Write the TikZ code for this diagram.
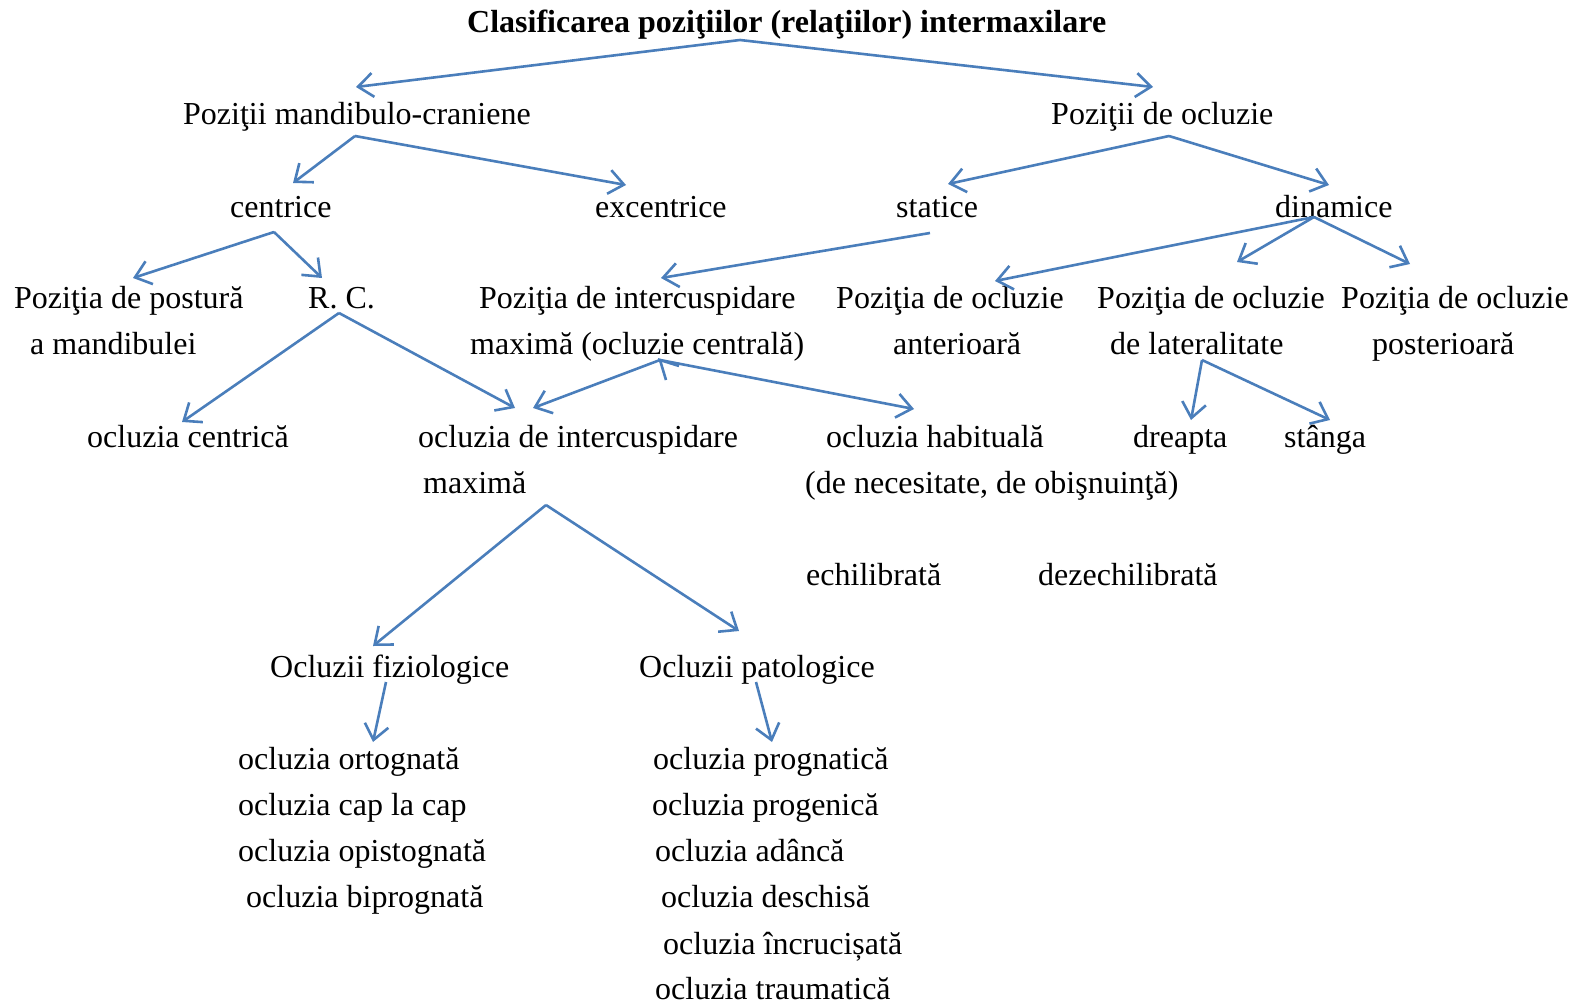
\documentclass[tikz,border=0pt]{standalone}
\usepackage{fontspec}
\setmainfont{Liberation Serif}
\usetikzlibrary{arrows.meta}
\definecolor{linkblue}{RGB}{74,126,187}
\begin{document}
\begin{tikzpicture}[x=1pt,y=-1pt,
  txt/.style={anchor=base west, inner sep=0pt, font=\fontsize{32}{38}\selectfont},
  ttl/.style={txt, font=\fontsize{32}{38}\selectfont\bfseries},
  link/.style={draw=linkblue, line width=2.6pt, -{Straight Barb[length=15pt,width=24pt,line width=2.6pt]}},
  plain/.style={draw=linkblue, line width=2.6pt}]
\useasboundingbox (0,0) rectangle (1582,1004);
% texts
\node[ttl] (title) at (467,32) {Clasificarea poziţiilor (relaţiilor) intermaxilare};
\node[txt] (pmc) at (183,124) {Poziţii mandibulo-craniene};
\node[txt] (pdo) at (1051,124) {Poziţii de ocluzie};
\node[txt] (cen) at (230,217) {centrice};
\node[txt] (exc) at (595,217) {excentrice};
\node[txt] (sta) at (896,217) {statice};
\node[txt] (din) at (1275,217) {dinamice};
\node[txt] (pp1) at (14,308) {Poziţia de postură};
\node[txt] (pp2) at (30,354) {a mandibulei};
\node[txt] (rc) at (308,308) {R. C.};
\node[txt] (pi1) at (479,308) {Poziţia de intercuspidare};
\node[txt] (pi2) at (470,354) {maximă (ocluzie centrală)};
\node[txt] (pa1) at (836,308) {Poziţia de ocluzie};
\node[txt] (pa2) at (893,354) {anterioară};
\node[txt] (pl1) at (1097,308) {Poziţia de ocluzie};
\node[txt] (pl2) at (1110,354) {de lateralitate};
\node[txt] (ppo1) at (1341,308) {Poziţia de ocluzie};
\node[txt] (ppo2) at (1372,354) {posterioară};
\node[txt] (oc) at (87,447) {ocluzia centrică};
\node[txt] (oi1) at (418,447) {ocluzia de intercuspidare};
\node[txt] (oi2) at (423,493) {maximă};
\node[txt] (oh1) at (826,447) {ocluzia habituală};
\node[txt] (oh2) at (805,493) {(de necesitate, de obişnuinţă)};
\node[txt] (dr) at (1133,447) {dreapta};
\node[txt] (st) at (1284,447) {stânga};
\node[txt] (ech) at (806,585) {echilibrată};
\node[txt] (dez) at (1038,585) {dezechilibrată};
\node[txt] (ofz) at (270,677) {Ocluzii fiziologice};
\node[txt] (opt) at (639,677) {Ocluzii patologice};
\node[txt] (f1) at (238,769) {ocluzia ortognată};
\node[txt] (f2) at (238,815) {ocluzia cap la cap};
\node[txt] (f3) at (238,861) {ocluzia opistognată};
\node[txt] (f4) at (246,907) {ocluzia biprognată};
\node[txt] (p1) at (653,769) {ocluzia prognatică};
\node[txt] (p2) at (652,815) {ocluzia progenică};
\node[txt] (p3) at (655,861) {ocluzia adâncă};
\node[txt] (p4) at (661,907) {ocluzia deschisă};
\node[txt] (p5) at (663,954) {ocluzia încrucișată};
\node[txt] (p6) at (655,999) {ocluzia traumatică};
% connector points
\coordinate (aT) at (740,40);
\coordinate (eTl) at (356,87);
\coordinate (eTr) at (1153,87);
\coordinate (aM) at (355,136);
\coordinate (eMl) at (293,183);
\coordinate (eMr) at (626,185);
\coordinate (aO) at (1169,136);
\coordinate (eOl) at (948,184);
\coordinate (eOr) at (1329,185);
\coordinate (aC) at (274,232);
\coordinate (eCl) at (133,278);
\coordinate (eCr) at (322,278);
\coordinate (aS) at (930,233);
\coordinate (eS) at (661,278);
\coordinate (aD) at (1314,217);
\coordinate (eD1) at (995,281);
\coordinate (eD2) at (1237,262);
\coordinate (eD3) at (1410,264);
\coordinate (aR) at (339,313);
\coordinate (eRl) at (182,422);
\coordinate (eRr) at (515,408);
\coordinate (aI) at (660,360);
\coordinate (eIl) at (533,408);
\coordinate (eIr) at (914,409);
\coordinate (wI1) at (666,380);
\coordinate (wI2) at (679,366);
\coordinate (aL) at (1202,360);
\coordinate (eLl) at (1191,420);
\coordinate (eLr) at (1330,420);
\coordinate (aX) at (546,505);
\coordinate (eXl) at (373,646);
\coordinate (eXr) at (739,631);
\coordinate (aF) at (386,682);
\coordinate (eF) at (373,742);
\coordinate (aP) at (756,682);
\coordinate (eP) at (772,742);
% connectors
\draw[link] (aT) -- (eTl);
\draw[link] (aT) -- (eTr);
\draw[link] (aM) -- (eMl);
\draw[link] (aM) -- (eMr);
\draw[link] (aO) -- (eOl);
\draw[link] (aO) -- (eOr);
\draw[link] (aC) -- (eCl);
\draw[link] (aC) -- (eCr);
\draw[link] (aS) -- (eS);
\draw[link] (aD) -- (eD1);
\draw[link] (aD) -- (eD2);
\draw[link] (aD) -- (eD3);
\draw[link] (aR) -- (eRl);
\draw[link] (aR) -- (eRr);
\draw[link] (aI) -- (eIl);
\draw[link] (aI) -- (eIr);
\draw[plain] (wI1) -- (aI) -- (wI2);
\draw[link] (aL) -- (eLl);
\draw[link] (aL) -- (eLr);
\draw[link] (aX) -- (eXl);
\draw[link] (aX) -- (eXr);
\draw[link] (aF) -- (eF);
\draw[link] (aP) -- (eP);
\end{tikzpicture}
\end{document}
